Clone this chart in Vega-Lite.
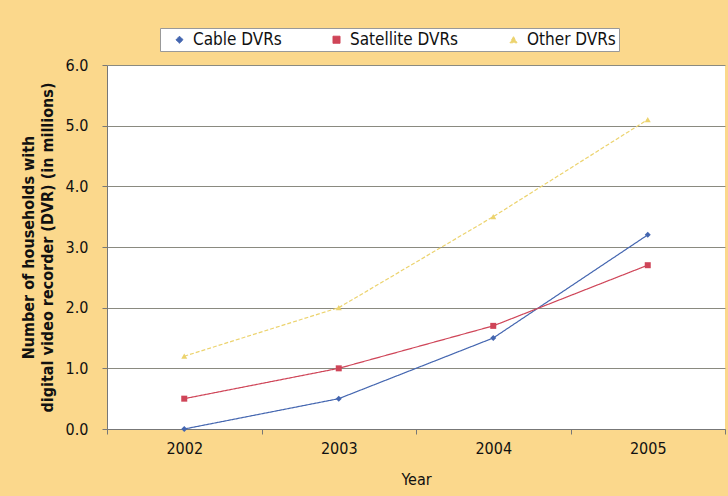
{
  "$schema": "https://vega.github.io/schema/vega-lite/v6.json",
  "autosize": {"type": "none"},
  "width": 618,
  "height": 364,
  "padding": {"left": 107, "top": 65, "right": 3, "bottom": 67},
  "background": "#fbd88c",
  "data": {
    "values": [
      {"year": "2002", "series": "Cable DVRs", "value": 0.0},
      {"year": "2003", "series": "Cable DVRs", "value": 0.5},
      {"year": "2004", "series": "Cable DVRs", "value": 1.5},
      {"year": "2005", "series": "Cable DVRs", "value": 3.2},
      {"year": "2002", "series": "Satellite DVRs", "value": 0.5},
      {"year": "2003", "series": "Satellite DVRs", "value": 1.0},
      {"year": "2004", "series": "Satellite DVRs", "value": 1.7},
      {"year": "2005", "series": "Satellite DVRs", "value": 2.7},
      {"year": "2002", "series": "Other DVRs", "value": 1.2},
      {"year": "2003", "series": "Other DVRs", "value": 2.0},
      {"year": "2004", "series": "Other DVRs", "value": 3.5},
      {"year": "2005", "series": "Other DVRs", "value": 5.1}
    ]
  },
  "mark": {"type": "line", "strokeWidth": 1.2, "point": {"size": 36, "filled": true, "opacity": 1}},
  "encoding": {
    "x": {
      "field": "year", "type": "ordinal",
      "scale": {"type": "band", "paddingInner": 0, "paddingOuter": 0},
      "axis": {
        "title": "Year", "labelAngle": 0, "tickBand": "extent",
        "labelDx": -21, "labelPadding": 6, "tickSize": 5,
        "titlePadding": 15
      }
    },
    "y": {
      "field": "value", "type": "quantitative",
      "scale": {"domain": [0, 6], "nice": false},
      "axis": {
        "title": ["Number of households with", "digital video recorder (DVR) (in millions)"],
        "titleFontWeight": "bold", "titleLineHeight": 19, "titlePadding": 10,
        "values": [0, 1, 2, 3, 4, 5, 6], "format": ".1f",
        "grid": true, "tickSize": 5, "labelPadding": 14
      }
    },
    "color": {
      "field": "series", "type": "nominal",
      "scale": {"domain": ["Cable DVRs", "Satellite DVRs", "Other DVRs"], "range": ["#4466b0", "#cf4558", "#ecd36e"]},
      "legend": {"title": null, "orient": "none", "legendX": 53, "legendY": -37, "direction": "horizontal"}
    },
    "shape": {
      "field": "series", "type": "nominal",
      "scale": {"domain": ["Cable DVRs", "Satellite DVRs", "Other DVRs"], "range": ["diamond", "square", "triangle-up"]},
      "legend": {"title": null, "orient": "none", "legendX": 53, "legendY": -37, "direction": "horizontal"}
    },
    "strokeDash": {
      "field": "series", "type": "nominal",
      "scale": {"domain": ["Cable DVRs", "Satellite DVRs", "Other DVRs"], "range": [[1, 0], [1, 0], [4, 2]]},
      "legend": null
    }
  },
  "config": {
    "font": "DejaVu Sans Condensed, DejaVu Sans, sans-serif",
    "view": {"stroke": null, "fill": "white"},
    "axis": {
      "labelFont": "DejaVu Sans Condensed, DejaVu Sans, sans-serif", "titleFont": "DejaVu Sans Condensed, DejaVu Sans, sans-serif",
      "labelFontSize": 16, "titleFontSize": 16, "labelColor": "#111", "titleColor": "#111",
      "titleFontWeight": "normal",
      "domainColor": "#777", "tickColor": "#777", "gridColor": "#8a8a80", "gridWidth": 1
    },
    "legend": {
      "labelFont": "DejaVu Sans Condensed, DejaVu Sans, sans-serif", "labelFontSize": 17, "labelColor": "#111",
      "fillColor": "white", "strokeColor": "#999", "padding": 3,
      "symbolSize": 50, "symbolStrokeWidth": 1, "columnPadding": 38, "labelOffset": 5, "symbolOffset": 8
    }
  }
}
